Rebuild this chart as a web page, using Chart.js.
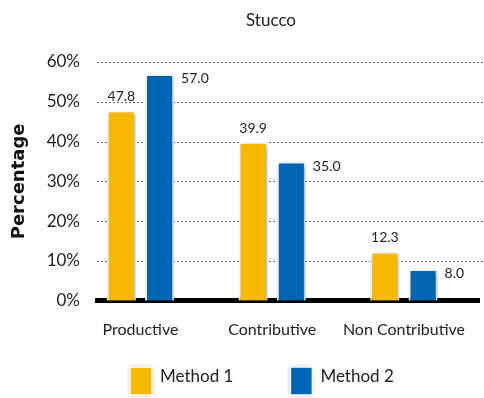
<!DOCTYPE html>
<html>
<head>
<meta charset="utf-8">
<script src="https://cdn.jsdelivr.net/npm/chart.js@4"></script>
<style>
  html, body { margin: 0; padding: 0; background: #fff; }
  #wrap { width: 484px; height: 398px; }
</style>
</head>
<body>
<div id="wrap"><canvas id="stuccoChart" width="484" height="398"></canvas></div>
<script>
const categories = ['Productive', 'Contributive', 'Non Contributive'];
const method1 = [47.8, 39.9, 12.3];
const method2 = [57.0, 35.0, 8.0];
const seriesNames = ['Method 1', 'Method 2'];
const yTicks = [0, 10, 20, 30, 40, 50, 60];

const yellow = '#F6B800';
const blue = '#0066B4';
const textFont = 'Lato';

// dotted grid, title, value labels, bar shadow and legend
const decorations = {
    id: 'decorations',
    beforeDatasetsDraw(chart) {
        const ctx = chart.ctx;
        const y = chart.scales.y;
        ctx.save();
        ctx.strokeStyle = '#666';
        ctx.lineWidth = 1;
        ctx.setLineDash([2, 2]);
        yTicks.forEach(v => {
            if (v === 0) return;
            const py = Math.round(y.getPixelForValue(v)) + 0.5;
            ctx.beginPath();
            ctx.moveTo(chart.chartArea.left, py);
            ctx.lineTo(chart.width, py);
            ctx.stroke();
        });
        ctx.restore();

        ctx.save();
        ctx.shadowColor = 'rgba(0,0,0,0.35)';
        ctx.shadowBlur = 4;
        ctx.shadowOffsetX = 1;
        ctx.shadowOffsetY = 1;
    },
    afterDatasetsDraw(chart) {
        const ctx = chart.ctx;
        ctx.restore();
        ctx.save();
        ctx.fillStyle = '#222';
        ctx.font = '14px ' + textFont;
        chart.data.datasets.forEach((ds, di) => {
            chart.getDatasetMeta(di).data.forEach((bar, i) => {
                const txt = ds.data[i].y.toFixed(1);
                ctx.textBaseline = 'middle';
                if (di === 0) {
                    ctx.textAlign = 'center';
                    ctx.fillText(txt, bar.x, bar.y - 14);
                } else {
                    ctx.textAlign = 'left';
                    ctx.fillText(txt, bar.x + bar.width / 2 + 7, bar.y + 5);
                }
            });
        });
        ctx.restore();
    },
    afterDraw(chart) {
        const ctx = chart.ctx;
        ctx.save();
        // title
        ctx.fillStyle = '#222';
        ctx.font = '17px ' + textFont;
        ctx.textAlign = 'center';
        ctx.textBaseline = 'middle';
        ctx.fillText('Stucco', 271, 21);

        // legend
        let x = 130;
        const top = 367, boxW = 22, boxH = 28;
        ctx.font = '17px ' + textFont;
        ctx.textAlign = 'left';
        chart.data.datasets.forEach(ds => {
            ctx.save();
            ctx.shadowColor = 'rgba(0,0,0,0.35)';
            ctx.shadowBlur = 4;
            ctx.fillStyle = ds.backgroundColor;
            ctx.fillRect(x, top, boxW, boxH);
            ctx.restore();
            ctx.strokeStyle = '#fff';
            ctx.lineWidth = 1.5;
            ctx.strokeRect(x, top, boxW, boxH);
            ctx.fillStyle = '#222';
            ctx.fillText(ds.label, x + boxW + 8, top + 10);
            x += boxW + 8 + ctx.measureText(ds.label).width + 57;
        });
        ctx.restore();
    }
};

new Chart(document.getElementById('stuccoChart'), {
    type: 'bar',
    data: {
        datasets: [
            {
                label: seriesNames[0],
                data: method1.map((v, i) => ({ x: i, y: v })),
                backgroundColor: yellow,
                borderColor: '#fff',
                borderWidth: 2
            },
            {
                label: seriesNames[1],
                data: method2.map((v, i) => ({ x: i, y: v })),
                backgroundColor: blue,
                borderColor: '#fff',
                borderWidth: 2
            }
        ]
    },
    options: {
        responsive: false,
        animation: false,
        layout: { padding: { top: 62, right: 0, bottom: 40, left: 0 } },
        datasets: { bar: { categoryPercentage: 0.58, barPercentage: 0.76 } },
        plugins: {
            legend: { display: false },
            title: { display: false },
            tooltip: { enabled: false }
        },
        scales: {
            x: {
                type: 'linear',
                min: -0.33,
                max: 2.57,
                offset: false,
                afterBuildTicks: scale => {
                    scale.ticks = categories.map((c, i) => ({ value: i }));
                },
                ticks: {
                    callback: v => categories[v],
                    color: '#222',
                    font: { family: textFont, size: 16 },
                    padding: 19,
                    maxRotation: 0,
                    autoSkip: false
                },
                grid: { display: false, drawTicks: false },
                border: { display: true, color: '#000', width: 5 }
            },
            y: {
                min: 0,
                max: 60,
                afterBuildTicks: scale => {
                    scale.ticks = yTicks.map(v => ({ value: v }));
                },
                afterFit: scale => { scale.width = 97; },
                ticks: {
                    callback: v => v + '%',
                    color: '#222',
                    font: { family: textFont, size: 17 },
                    padding: 17
                },
                grid: { display: false, drawTicks: false },
                border: { display: false },
                title: {
                    display: true,
                    text: 'Percentage',
                    color: '#111',
                    font: { family: 'DejaVu Sans', size: 18, weight: 'bold' },
                    padding: { top: 9, bottom: 0 }
                }
            }
        }
    },
    plugins: [decorations]
});
</script>
</body>
</html>
